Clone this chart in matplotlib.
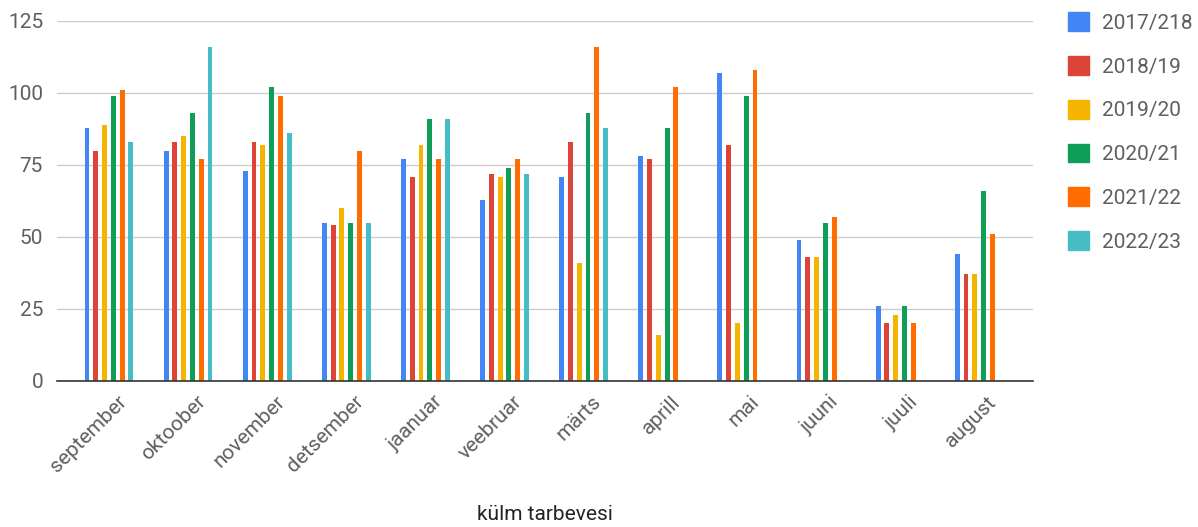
import matplotlib as mpl
mpl.use('Agg')
import matplotlib.pyplot as plt
import matplotlib.patches as mpatches
import numpy as np

plt.rcParams['font.family'] = ['Roboto', 'DejaVu Sans']

kuud = ["september", "oktoober", "november", "detsember", "jaanuar", "veebruar",
        "märts", "aprill", "mai", "juuni", "juuli", "august"]
hooajad = ["2017/218", "2018/19", "2019/20", "2020/21", "2021/22", "2022/23"]
varvid = ["#4285F4", "#DB4437", "#F4B400", "#0F9D58", "#FF6D01", "#46BDC6"]

v2017 = [88, 80, 73, 55, 77, 63, 71, 78, 107, 49, 26, 44]
v2018 = [80, 83, 83, 54, 71, 72, 83, 77, 82, 43, 20, 37]
v2019 = [89, 85, 82, 60, 82, 71, 41, 16, 20, 43, 23, 37]
v2020 = [99, 93, 102, 55, 91, 74, 93, 88, 99, 55, 26, 66]
v2021 = [101, 77, 99, 80, 77, 77, 116, 102, 108, 57, 20, 51]
v2022 = [83, 116, 86, 55, 91, 72, 88, None, None, None, None, None]
seeriad = [v2017, v2018, v2019, v2020, v2021, v2022]

fs = 15

fig = plt.figure(figsize=(11.98, 5.27), dpi=100)
ax = fig.add_axes([57 / 1198, 1 - 381 / 527, 976 / 1198, 360 / 527])

x = np.arange(len(kuud))
samm = 0.111
laius = 0.062
for k, (nimi, vals, c) in enumerate(zip(hooajad, seeriad, varvid)):
    xs = [xi + (k - 2.5) * samm for xi, v in zip(x, vals) if v is not None]
    ys = [v for v in vals if v is not None]
    ax.bar(xs, ys, width=laius, color=c, label=nimi, zorder=3)

ax.set_xlim(-0.657, 11.68)
ax.set_ylim(0, 125)
ax.set_yticks([0, 25, 50, 75, 100, 125])
ax.yaxis.grid(True, color="#cccccc", linewidth=1, zorder=0)
for s in ["top", "right", "left"]:
    ax.spines[s].set_visible(False)
ax.spines["bottom"].set_color("#333333")
ax.spines["bottom"].set_linewidth(1.2)
ax.spines["bottom"].set_zorder(4)
ax.tick_params(axis="both", length=0, labelsize=fs, colors="#5f5f5f")
ax.tick_params(axis="y", pad=10)
ax.set_xticks(x + 0.1)
ax.set_xticklabels(kuud, rotation=45, ha="right", rotation_mode="anchor")
ax.tick_params(axis="x", pad=8)

fig.text(545 / 1198, 1 - 515 / 527, "külm tarbevesi", ha="center", va="center",
         fontsize=fs, color="#222222")

handles = [mpatches.Patch(color=c, label=n) for c, n in zip(varvid, hooajad)]
leg = fig.legend(handles=handles, loc="upper left", bbox_to_anchor=(1060 / 1198, 1 - 4 / 527),
                 frameon=False, fontsize=fs, handlelength=1.0, handleheight=1.0,
                 labelspacing=1.12, handletextpad=0.6, borderaxespad=0)
for t in leg.get_texts():
    t.set_color("#5f5f5f")

fig.savefig("out.png", dpi=100)
